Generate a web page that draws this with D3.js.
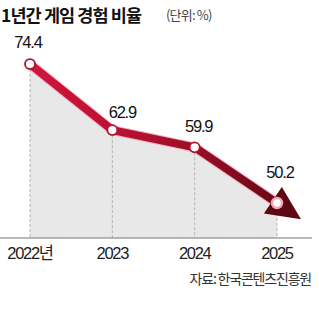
<!DOCTYPE html>
<html>
<head>
<meta charset="utf-8">
<script src="https://cdn.jsdelivr.net/npm/d3@7"></script>
<style>
  body { margin: 0; background: #fff; }
  text { font-family: "Liberation Sans", "Noto Sans CJK KR", sans-serif; }
</style>
</head>
<body>
<div id="chart"></div>
<script>
var years = ["2022", "2023", "2024", "2025"];
var yearLabels = ["2022년", "2023", "2024", "2025"];
var values = [74.4, 62.9, 59.9, 50.2];
var valueLabels = ["74.4", "62.9", "59.9", "50.2"];

var width = 319, height = 312;
var baseY = 238;

var svg = d3.select("#chart").append("svg")
    .attr("width", width)
    .attr("height", height);

var x = d3.scalePoint().domain(years).range([30, 277]);
var y = d3.scaleLinear().domain([44, 75]).range([238.6, 60.6]);

var data = years.map(function(d, i) { return {year: d, value: values[i]}; });

// title
svg.append("text")
    .attr("x", 1).attr("y", 22)
    .style("font-family", "'Noto Sans CJK KR', sans-serif")
    .style("font-size", "17.5px").style("font-weight", "bold")
    .style("letter-spacing", "-0.9px")
    .attr("fill", "#111")
    .text("1년간 게임 경험 비율");
svg.append("text")
    .attr("x", 166).attr("y", 20)
    .style("font-family", "'Noto Sans CJK KR', sans-serif")
    .style("font-size", "13px")
    .style("letter-spacing", "-0.8px")
    .attr("fill", "#444")
    .text("(단위: %)");

// gray area
var area = d3.area()
    .x(function(d) { return x(d.year); })
    .y0(baseY)
    .y1(function(d) { return y(d.value); });
svg.append("path").datum(data)
    .attr("d", area)
    .attr("fill", "#e8e8e8");

// dashed verticals
svg.selectAll(".drop").data(data).enter().append("line")
    .attr("x1", function(d) { return x(d.year); })
    .attr("x2", function(d) { return x(d.year); })
    .attr("y1", function(d) { return y(d.value); })
    .attr("y2", baseY)
    .attr("stroke", "#b4b4b4")
    .attr("stroke-width", 1)
    .attr("stroke-dasharray", "3,2");

// axis line
svg.append("line")
    .attr("x1", 0).attr("x2", 312)
    .attr("y1", baseY).attr("y2", baseY)
    .attr("stroke", "#777").attr("stroke-width", 1.2);

// gradient for the line
var defs = svg.append("defs");
var grad = defs.append("linearGradient")
    .attr("id", "lineGrad")
    .attr("gradientUnits", "userSpaceOnUse")
    .attr("x1", x("2022")).attr("x2", 300)
    .attr("y1", 0).attr("y2", 0);
grad.append("stop").attr("offset", "0%").attr("stop-color", "#d2143c");
grad.append("stop").attr("offset", "45%").attr("stop-color", "#b0102f");
grad.append("stop").attr("offset", "100%").attr("stop-color", "#5e0714");

// arrow geometry, continuing past the last point
var p3 = [x("2024"), y(values[2])];
var p4 = [x("2025"), y(values[3])];
var dx = p4[0] - p3[0], dy = p4[1] - p3[1];
var len = Math.sqrt(dx * dx + dy * dy);
var ux = dx / len, uy = dy / len;
var baseC = [p4[0] - 5 * ux, p4[1] - 5 * uy];
var tip = [p4[0] + 29 * ux, p4[1] + 29 * uy];
var hw = 16;

var lineData = data.map(function(d) { return [x(d.year), y(d.value)]; });
lineData[3] = [baseC[0] + 4 * ux, baseC[1] + 4 * uy];

svg.append("path")
    .attr("d", d3.line()(lineData))
    .attr("fill", "none")
    .attr("stroke", "#f3b3bf")
    .attr("stroke-width", 10)
    .attr("stroke-linejoin", "round");
svg.append("path")
    .attr("d", d3.line()(lineData))
    .attr("fill", "none")
    .attr("stroke", "url(#lineGrad)")
    .attr("stroke-width", 8)
    .attr("stroke-linejoin", "round");

svg.append("path")
    .attr("d", d3.line()([
        [baseC[0] - hw * uy, baseC[1] + hw * ux],
        tip,
        [baseC[0] + hw * uy, baseC[1] - hw * ux]
    ]) + "Z")
    .attr("fill", "#5e0714");

// points
svg.selectAll(".pt").data(data).enter().append("circle")
    .attr("cx", function(d) { return x(d.year); })
    .attr("cy", function(d) { return y(d.value); })
    .attr("r", 5)
    .attr("fill", "#fff")
    .attr("stroke", function(d, i) { return i === 3 ? "#f2a7b6" : "#b8102f"; })
    .attr("stroke-width", function(d, i) { return i === 3 ? 2.5 : 1.8; });

// value labels
var labelOffset = [[-2, -16], [10, -12], [4, -15], [3, -25]];
svg.selectAll(".val").data(data).enter().append("text")
    .attr("x", function(d, i) { return x(d.year) + labelOffset[i][0]; })
    .attr("y", function(d, i) { return y(d.value) + labelOffset[i][1]; })
    .attr("text-anchor", "middle")
    .style("font-size", "16.5px")
    .style("letter-spacing", "-1.2px")
    .attr("fill", "#111")
    .text(function(d, i) { return valueLabels[i]; });

// x labels
svg.selectAll(".xl").data(years).enter().append("text")
    .attr("x", function(d) { return x(d); })
    .attr("y", 259)
    .attr("text-anchor", "middle")
    .style("font-family", "'Liberation Sans', 'Noto Sans CJK KR', sans-serif")
    .style("font-size", "16.5px")
    .style("letter-spacing", "-1.3px")
    .attr("fill", "#222")
    .text(function(d, i) { return yearLabels[i]; });

// source
svg.append("text")
    .attr("x", 311).attr("y", 284)
    .attr("text-anchor", "end")
    .style("font-family", "'Noto Sans CJK KR', sans-serif")
    .style("font-size", "14px")
    .style("letter-spacing", "-1.2px")
    .attr("fill", "#333")
    .text("자료: 한국콘텐츠진흥원");
</script>
</body>
</html>
